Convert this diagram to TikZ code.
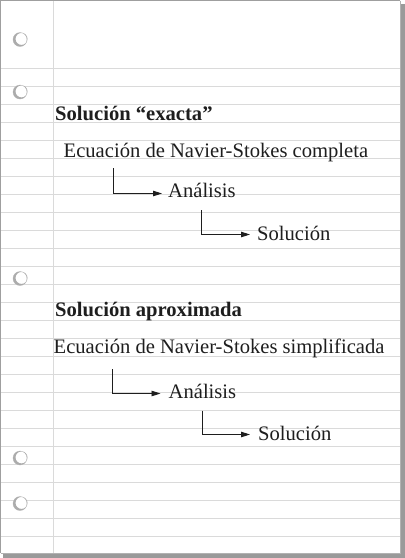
\documentclass[tikz,border=0pt]{standalone}
\usepackage{fontspec}
\setmainfont{Liberation Serif}
\usetikzlibrary{arrows.meta,calc}
\definecolor{ruleline}{HTML}{DADADA}
\definecolor{shadowgray}{HTML}{9A9A9A}
\definecolor{inkc}{HTML}{1E1E1E}
\tikzset{
  txt/.style={anchor=base west,inner sep=0pt,text=inkc,font=\fontsize{20.6}{24}\selectfont},
  head/.style={txt,font=\fontsize{20.6}{24}\selectfont\bfseries},
  conn/.style={draw=inkc,line width=0.9pt,-{Triangle[length=9pt,width=5.5pt]}},
  rule/.style={draw=ruleline,line width=0.9pt},
  hole/.style={fill=white,draw=gray!45,line width=0.4pt}
}
\begin{document}
\begin{tikzpicture}[x=1pt,y=-1pt]
\useasboundingbox (0,0) rectangle (405,558);
% page with shadow
\fill[shadowgray] (3,4) rectangle (405,558);
\fill[white] (0,0) rectangle (400,553);
% ruled lines
\foreach \k in {0,...,26}{
  \draw[rule] (0,68+18*\k) -- (400,68+18*\k);
}
\draw[rule] (53.5,0) -- (53.5,553);
\draw[draw=gray!75,line width=1.2pt] (0.6,553) -- (0.6,0.6) -- (400,0.6);
\draw[draw=gray!60,line width=0.5pt] (400,0.6) -- (400,553) -- (0.6,553);
% holes
\foreach \hy in {39.5,92,278.5,458,503.5}{
  \draw[hole] (20,\hy) circle (7);
  \fill[gray!65,even odd rule] (20,\hy) circle (7) (21.5,\hy-0.6) circle (6);
}
% section 1
\node[head] (h1) at (55,120) {Solución “exacta”};
\node[txt] (ec1) at (63.5,157) {Ecuación de Navier-Stokes completa};
\node[txt] (an1) at (168,197.5) {Análisis};
\node[txt] (so1) at (257,240.5) {Solución};
\coordinate (c1) at ($(ec1.base west)+(49.8,11)$);
\coordinate (t1) at ($(an1.base west)+(-6,-4)$);
\draw[conn] (c1) |- (t1);
\coordinate (c2) at ($(an1.base west)+(33.8,12.5)$);
\coordinate (t2) at ($(so1.base west)+(-7,-6)$);
\draw[conn] (c2) |- (t2);
% section 2
\node[head] (h2) at (55,316.5) {Solución aproximada};
\node[txt] (ec2) at (53.5,353.5) {Ecuación de Navier-Stokes simplificada};
\node[txt] (an2) at (168.5,398) {Análisis};
\node[txt] (so2) at (258,440.5) {Solución};
\coordinate (c3) at ($(ec2.base west)+(59.3,15.5)$);
\coordinate (t3) at ($(an2.base west)+(-8,-4.5)$);
\draw[conn] (c3) |- (t3);
\coordinate (c4) at ($(an2.base west)+(33.8,12.5)$);
\coordinate (t4) at ($(so2.base west)+(-8,-6)$);
\draw[conn] (c4) |- (t4);
\end{tikzpicture}
\end{document}
